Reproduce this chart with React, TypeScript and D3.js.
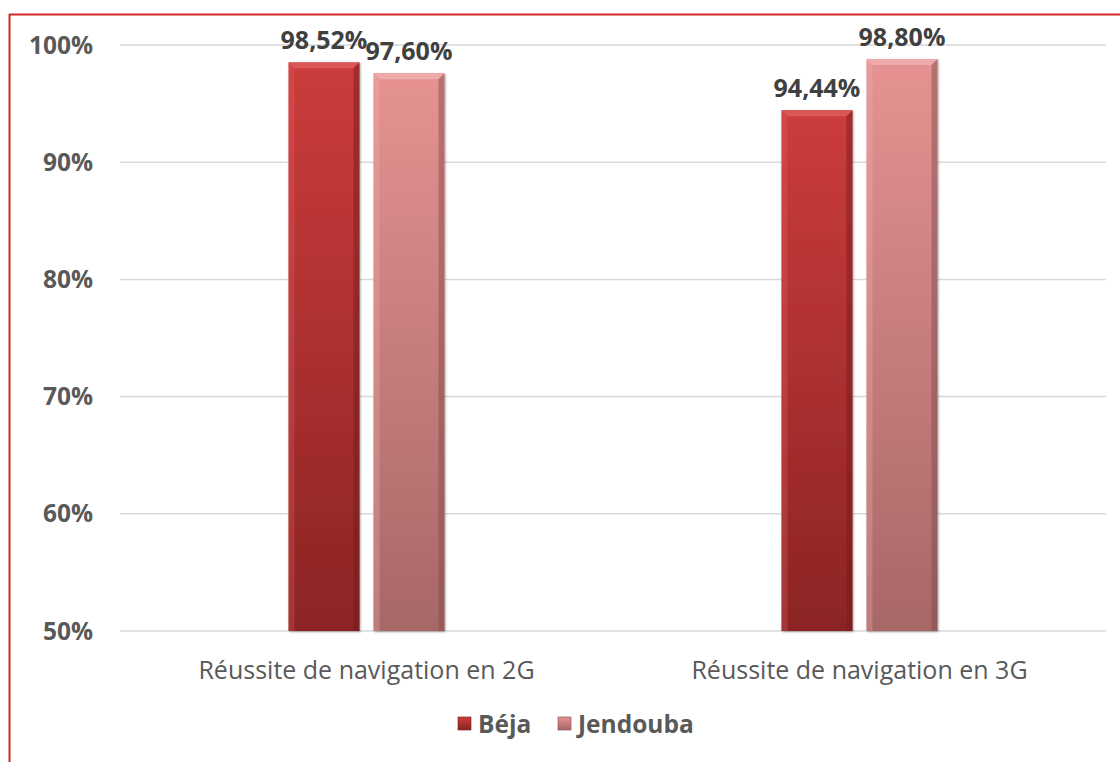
import React from "react";
import * as d3 from "d3";

const categories = ["Réussite de navigation en 2G", "Réussite de navigation en 3G"];
const seriesNames = ["Béja", "Jendouba"];
const bejaValues = [98.52, 94.44];
const jendoubaValues = [97.6, 98.8];
const valueLabels = [["98,52%", "97,60%"], ["94,44%", "98,80%"]];
const yTicks = [50, 60, 70, 80, 90, 100];

const W = 1120, H = 762;
const plot = { left: 120, right: 1106, top: 45, bottom: 631 };
const FONT = "'Open Sans', 'Liberation Sans', sans-serif";

const colors = [
  { top: "#cc3c3c", bottom: "#8c2424", light: "#e06060", dark: "#6e1a1a" },
  { top: "#e69292", bottom: "#a86767", light: "#f2b2b2", dark: "#7e4a4a" },
];

export default function App() {
  const x0 = d3.scaleBand<string>().domain(categories).range([plot.left, plot.right]);
  const x1 = d3.scaleBand<string>().domain(seriesNames).range([-78, 78]).paddingInner(0.165);
  const y = d3.scaleLinear().domain([50, 100]).range([plot.bottom, plot.top]);
  const series = [bejaValues, jendoubaValues];

  return (
    <svg width={W} height={H} style={{ display: "block", position: "absolute", left: 0, top: 0 }} fontFamily={FONT}>
      <defs>
        {colors.map((c, i) => (
          <linearGradient key={i} id={`g${i}`} x1="0" y1="0" x2="0" y2="1">
            <stop offset="0" stopColor={c.top} />
            <stop offset="1" stopColor={c.bottom} />
          </linearGradient>
        ))}
        <filter id="sh" x="-20%" y="-5%" width="140%" height="110%">
          <feDropShadow dx="1" dy="1" stdDeviation="1.2" floodColor="#000" floodOpacity="0.35" />
        </filter>
      </defs>
      <rect x={0} y={0} width={W} height={H} fill="#fff" />
      <line x1={9.5} x2={9.5} y1={14} y2={H} stroke="#d42a2a" strokeWidth={2} />
      <line x1={9} x2={W} y1={14.5} y2={14.5} stroke="#d42a2a" strokeWidth={2} />
      {yTicks.map((t) => (
        <g key={t}>
          <line x1={plot.left} x2={plot.right} y1={y(t)} y2={y(t)} stroke="#d9d9d9" strokeWidth={1.5} />
          <text x={93} y={y(t)} dy="0.35em" textAnchor="end" fontSize={24.5} fontWeight="bold" fill="#595959">
            {t}%
          </text>
        </g>
      ))}
      {categories.map((cat, ci) => {
        const cx = (x0(cat) as number) + x0.bandwidth() / 2;
        return (
          <g key={cat}>
            {seriesNames.map((s, si) => {
              const v = series[si][ci];
              const bx = cx + (x1(s) as number);
              const bw = x1.bandwidth();
              const by = y(v);
              const bh = y(50) - by;
              const c = colors[si];
              const b = 6;
              return (
                <g key={s}>
                  <rect x={bx} y={by} width={bw} height={bh} fill={`url(#g${si})`} filter="url(#sh)" />
                  <polygon points={`${bx},${by} ${bx + bw},${by} ${bx + bw - b},${by + b} ${bx + b},${by + b}`} fill={c.light} opacity={0.75} />
                  <polygon points={`${bx},${by} ${bx + b},${by + b} ${bx + b},${by + bh} ${bx},${by + bh}`} fill={c.light} opacity={0.3} />
                  <polygon points={`${bx + bw},${by} ${bx + bw - b},${by + b} ${bx + bw - b},${by + bh} ${bx + bw},${by + bh}`} fill={c.dark} opacity={0.45} />
                  <text x={bx + bw / 2} y={by - 13} textAnchor="middle" fontSize={25} fontWeight="bold" fill="#404040">
                    {valueLabels[ci][si]}
                  </text>
                </g>
              );
            })}
            <text x={cx} y={670} dy="0.35em" textAnchor="middle" fontSize={25} fill="#595959">
              {cat}
            </text>
          </g>
        );
      })}
      {seriesNames.map((s, si) => {
        const lx = si === 0 ? 458 : 558;
        const c = colors[si];
        return (
          <g key={s}>
            <rect x={lx} y={717} width={13} height={13} fill={`url(#g${si})`} stroke={c.dark} strokeWidth={0.6} />
            <text x={lx + 20} y={724} dy="0.35em" fontSize={24.5} fontWeight="bold" fill="#595959">
              {s}
            </text>
          </g>
        );
      })}
    </svg>
  );
}
